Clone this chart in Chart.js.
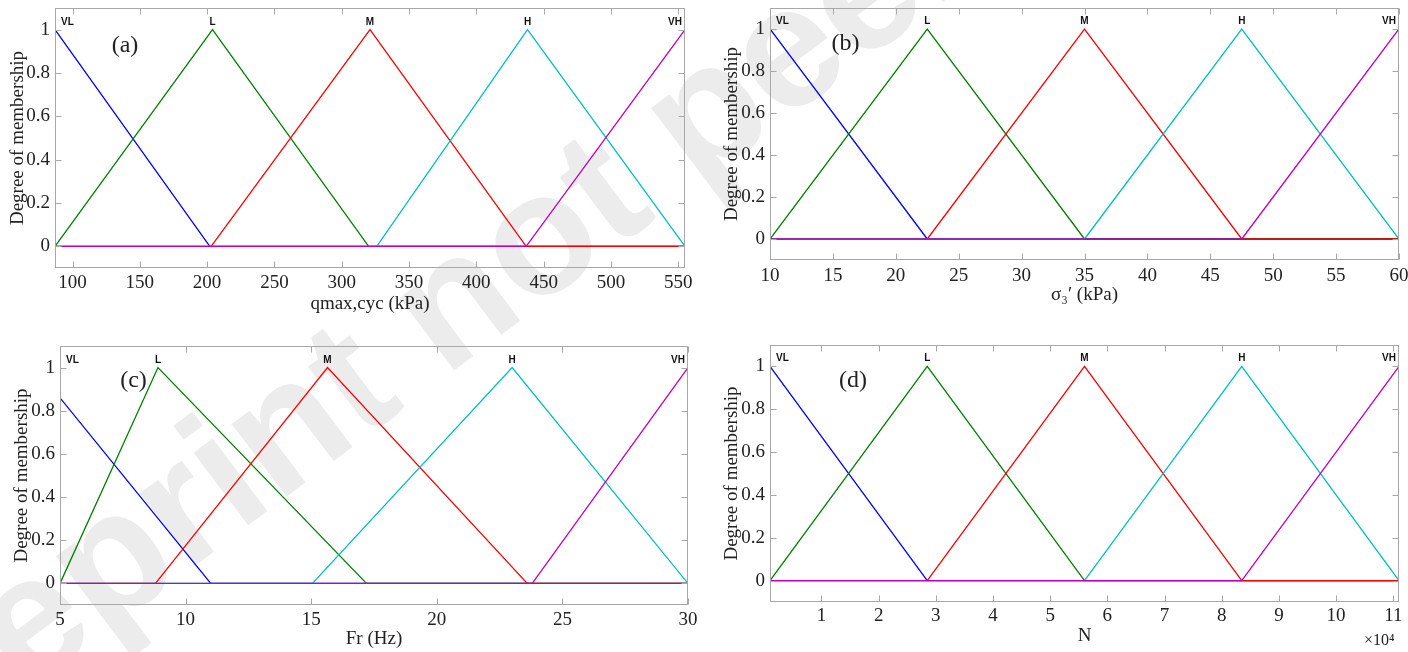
<!DOCTYPE html>
<html>
<head>
<meta charset="utf-8">
<script src="https://cdn.jsdelivr.net/npm/chart.js@4.4.0/dist/chart.umd.min.js"></script>
<style>
  html, body { margin: 0; padding: 0; background: #fff; }
  body { width: 1408px; height: 652px; position: relative; overflow: hidden; }
  .painel { position: absolute; }
  #marca { position: absolute; left: 0; top: 0; }
</style>
</head>
<body>
<canvas id="marca" width="1408" height="652"></canvas>
<div class="painel" style="left:0;top:0;width:700px;height:322px"><canvas id="chartA"></canvas></div>
<div class="painel" style="left:704px;top:0;width:704px;height:322px"><canvas id="chartB"></canvas></div>
<div class="painel" style="left:0;top:326px;width:700px;height:326px"><canvas id="chartC"></canvas></div>
<div class="painel" style="left:704px;top:326px;width:704px;height:326px"><canvas id="chartD"></canvas></div>
<script>
// nomes e cores das funções de pertinência
const nomesMF = ['VL', 'L', 'M', 'H', 'VH'];
const coresMF = ['#0000ff', '#008000', '#ff0000', '#00bfbf', '#bf00bf'];
const ticksY = [0, 0.2, 0.4, 0.6, 0.8, 1];

// (a) qmax,cyc (kPa)
const qmaxLimites = [87, 555];
const qmaxTicks = [100, 150, 200, 250, 300, 350, 400, 450, 500, 550];
const qmaxVL = [[87, 1], [202, 0], [555, 0]];
const qmaxL = [[87, 0], [204, 1], [320, 0], [555, 0]];
const qmaxM = [[87, 0], [203, 0], [321, 1], [437, 0], [555, 0]];
const qmaxH = [[87, 0], [326, 0], [438, 1], [555, 0]];
const qmaxVH = [[87, 0], [437, 0], [555, 1]];

// (b) sigma3' (kPa)
const sigmaLimites = [10, 60];
const sigmaTicks = [10, 15, 20, 25, 30, 35, 40, 45, 50, 55, 60];
const sigmaVL = [[10, 1], [22.5, 0], [60, 0]];
const sigmaL = [[10, 0], [22.5, 1], [35, 0], [60, 0]];
const sigmaM = [[10, 0], [22.5, 0], [35, 1], [47.5, 0], [60, 0]];
const sigmaH = [[10, 0], [35, 0], [47.5, 1], [60, 0]];
const sigmaVH = [[10, 0], [47.5, 0], [60, 1]];

// (c) Fr (Hz)
const frLimites = [5, 30];
const frTicks = [5, 10, 15, 20, 25, 30];
const frVL = [[5, 0.86], [11, 0], [30, 0]];
const frL = [[5, 0], [8.9, 1], [17.2, 0], [30, 0]];
const frM = [[5, 0], [8.8, 0], [15.65, 1], [23.6, 0], [30, 0]];
const frH = [[5, 0], [15.05, 0], [23, 1], [30, 0]];
const frVH = [[5, 0], [23.8, 0], [30, 1]];

// (d) N
const nLimites = [1000, 111000];
const nTicks = [10000, 20000, 30000, 40000, 50000, 60000, 70000, 80000, 90000, 100000, 110000];
const nVL = [[1000, 1], [28500, 0], [111000, 0]];
const nL = [[1000, 0], [28500, 1], [56000, 0], [111000, 0]];
const nM = [[1000, 0], [28500, 0], [56000, 1], [83500, 0], [111000, 0]];
const nH = [[1000, 0], [56000, 0], [83500, 1], [111000, 0]];
const nVH = [[1000, 0], [83500, 0], [111000, 1]];

const serif = '"Liberation Serif", "Times New Roman", serif';
const fonteEixo = { family: serif, size: 19 };
const corTexto = '#222';

// caixa do eixo com ticks p/ dentro, rótulos das MFs e letra do painel
const pluginCaixa = {
    id: 'caixa',
    afterDraw(chart, args, opts) {
        const { ctx, chartArea: a, scales: { x, y } } = chart;
        ctx.save();
        ctx.strokeStyle = '#a8a8a8';
        ctx.lineWidth = 1;
        const L = Math.round(a.left) + 0.5, R = Math.round(a.right) - 0.5;
        const T = Math.round(a.top) + 0.5, B = Math.round(a.bottom) - 0.5;
        ctx.strokeRect(L, T, R - L, B - T);
        ctx.beginPath();
        x.ticks.forEach(function(t) {
            const px = Math.round(x.getPixelForValue(t.value)) + 0.5;
            ctx.moveTo(px, B); ctx.lineTo(px, B - 6);
            ctx.moveTo(px, T); ctx.lineTo(px, T + 6);
        });
        y.ticks.forEach(function(t) {
            const py = Math.round(y.getPixelForValue(t.value)) + 0.5;
            ctx.moveTo(L, py); ctx.lineTo(L + 6, py);
            ctx.moveTo(R, py); ctx.lineTo(R - 6, py);
        });
        ctx.stroke();

        ctx.fillStyle = '#111';
        ctx.font = 'bold 10px "Liberation Sans", Arial, sans-serif';
        ctx.textBaseline = 'alphabetic';
        ctx.textAlign = 'left';
        const yRot = y.getPixelForValue(1) - 5;
        chart.data.datasets.forEach(function(ds) {
            let pico = ds.data[0];
            ds.data.forEach(function(p) { if (p.y > pico.y) pico = p; });
            const w = ctx.measureText(ds.label).width;
            let esq = x.getPixelForValue(pico.x) - w / 2;
            esq = Math.max(a.left + 6, Math.min(a.right - 3 - w, esq));
            ctx.fillText(ds.label, esq, yRot);
        });

        ctx.fillStyle = corTexto;
        ctx.font = '24px ' + serif;
        ctx.textAlign = 'center';
        ctx.textBaseline = 'middle';
        ctx.fillText(opts.letra, a.left + opts.letraPos[0], a.top + opts.letraPos[1]);

        if (opts.expoente) {
            ctx.font = '16px ' + serif;
            ctx.textAlign = 'left';
            ctx.fillText(opts.expoente, opts.expoentePos[0], opts.expoentePos[1]);
        }
        ctx.restore();
    }
};

function plotarPainel(id, cfg) {
    const ctx = document.getElementById(id).getContext('2d');
    return new Chart(ctx, {
        type: 'line',
        data: {
            datasets: cfg.mfs.map(function(pts, i) {
                return {
                    label: nomesMF[i],
                    data: pts.map(function(p) { return { x: p[0], y: p[1] }; }),
                    borderColor: coresMF[i],
                    borderWidth: 1.3,
                    pointRadius: 0,
                    tension: 0,
                    fill: false,
                    order: 5 - i
                };
            })
        },
        options: {
            responsive: true,
            maintainAspectRatio: false,
            animation: false,
            layout: { padding: cfg.padding },
            plugins: {
                legend: { display: false },
                tooltip: { enabled: false },
                caixa: cfg
            },
            scales: {
                x: {
                    type: 'linear',
                    min: cfg.limites[0],
                    max: cfg.limites[1],
                    afterBuildTicks: function(s) { s.ticks = cfg.ticksX.map(function(v) { return { value: v }; }); },
                    afterFit: function(s) { s.height = cfg.alturaX; s.paddingLeft = 0; s.paddingRight = 0; },
                    grid: { display: false, drawTicks: false },
                    border: { display: false },
                    ticks: {
                        padding: cfg.padX, color: corTexto, font: fonteEixo,
                        maxRotation: 0, autoSkip: false,
                        callback: cfg.fmtX || function(v) { return String(v); }
                    },
                    title: {
                        display: true, text: cfg.tituloX, color: corTexto, font: fonteEixo,
                        padding: { top: 0, bottom: cfg.padTituloX }
                    }
                },
                y: {
                    min: -0.1,
                    max: 1.1,
                    afterBuildTicks: function(s) { s.ticks = ticksY.map(function(v) { return { value: v }; }); },
                    afterFit: function(s) { s.width = cfg.larguraY; s.paddingTop = 0; s.paddingBottom = 0; },
                    grid: { display: false, drawTicks: false },
                    border: { display: false },
                    ticks: {
                        padding: 5, color: corTexto, font: fonteEixo,
                        callback: function(v) { return String(Math.round(v * 10) / 10); }
                    },
                    title: {
                        display: true, text: 'Degree of membership', color: corTexto, font: fonteEixo,
                        padding: { top: cfg.padTituloY, bottom: 0 }
                    }
                }
            }
        },
        plugins: [pluginCaixa]
    });
}

// marca d'água do preprint (fica atrás dos gráficos)
function desenharMarca() {
    const ctx = document.getElementById('marca').getContext('2d');
    ctx.save();
    ctx.translate(-120, 803);
    ctx.rotate(-37 * Math.PI / 180);
    ctx.fillStyle = '#ececec';
    ctx.font = 'bold 172px "Liberation Sans", Arial, sans-serif';
    ctx.textBaseline = 'alphabetic';
    ctx.fillText('Preprint not peer reviewed', 0, 0);
    ctx.restore();
}

desenharMarca();

plotarPainel('chartA', {
    mfs: [qmaxVL, qmaxL, qmaxM, qmaxH, qmaxVH],
    limites: qmaxLimites, ticksX: qmaxTicks,
    tituloX: 'qmax,cyc (kPa)',
    padding: { left: 0, top: 8, right: 15, bottom: 0 },
    larguraY: 55, alturaX: 54, padX: 4, padTituloX: 6.6, padTituloY: 6.6,
    letra: '(a)', letraPos: [70, 38]
});

plotarPainel('chartB', {
    mfs: [sigmaVL, sigmaL, sigmaM, sigmaH, sigmaVH],
    limites: sigmaLimites, ticksX: sigmaTicks,
    tituloX: 'σ₃′ (kPa)',
    padding: { left: 0, top: 8, right: 9, bottom: 0 },
    larguraY: 66, alturaX: 62, padX: 5, padTituloX: 15.6, padTituloY: 16.6,
    letra: '(b)', letraPos: [75.5, 36]
});

plotarPainel('chartC', {
    mfs: [frVL, frL, frM, frH, frVH],
    limites: frLimites, ticksX: frTicks,
    tituloX: 'Fr (Hz)',
    padding: { left: 0, top: 20, right: 12, bottom: 0 },
    larguraY: 60, alturaX: 47, padX: 4, padTituloX: 1.6, padTituloY: 10.6,
    letra: '(c)', letraPos: [73.5, 35]
});

plotarPainel('chartD', {
    mfs: [nVL, nL, nM, nH, nVH],
    limites: nLimites, ticksX: nTicks,
    tituloX: 'N',
    fmtX: function(v) { return String(v / 10000); },
    padding: { left: 0, top: 19, right: 9, bottom: 0 },
    larguraY: 66, alturaX: 50, padX: 3, padTituloX: 4.6, padTituloY: 16.6,
    letra: '(d)', letraPos: [83, 36],
    expoente: '×10⁴', expoentePos: [660, 315]
});
</script>
</body>
</html>
